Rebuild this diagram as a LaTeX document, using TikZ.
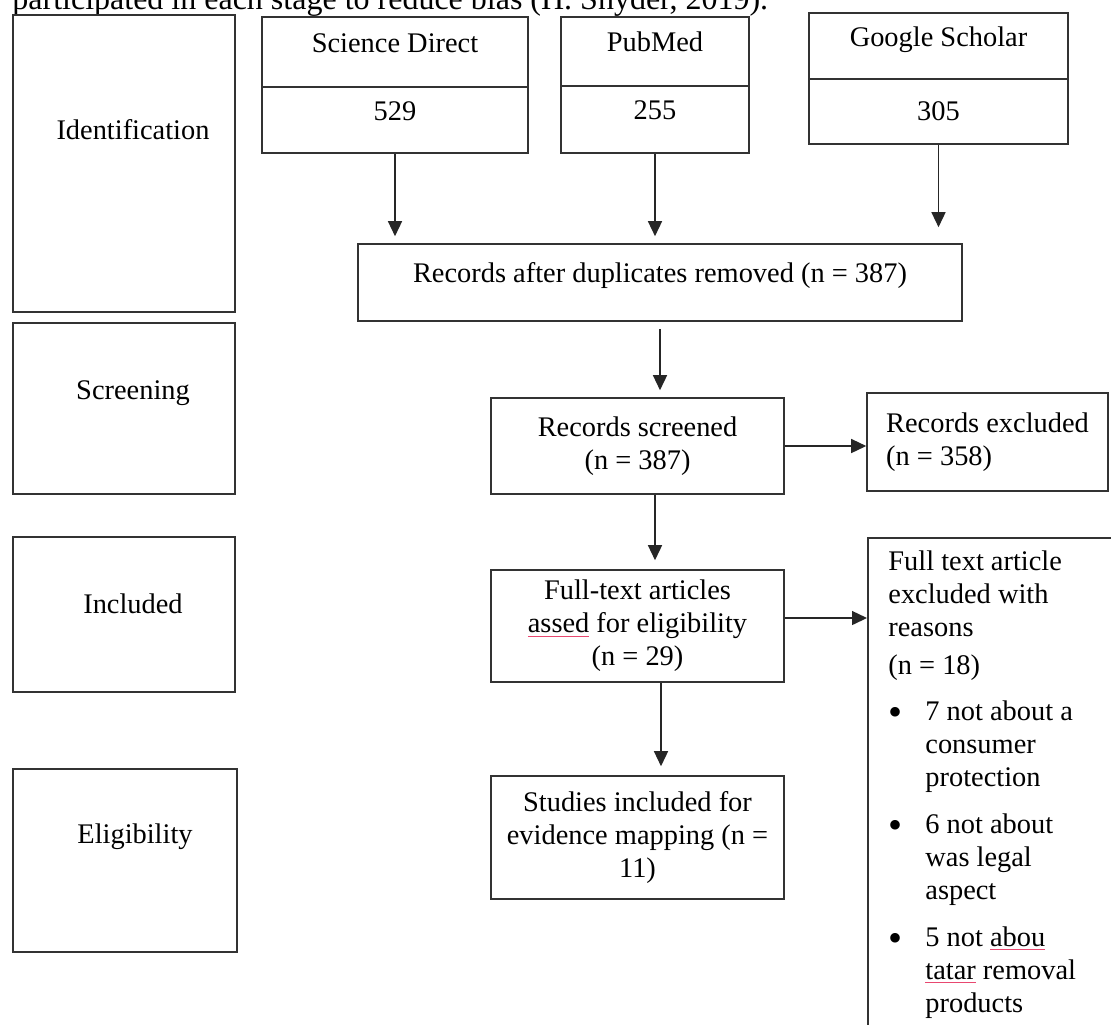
\documentclass[tikz,border=0pt]{standalone}
\usepackage{fontspec}
\setmainfont{Liberation Serif}
\usetikzlibrary{arrows.meta}
\definecolor{squig}{RGB}{232,72,112}
\newcommand{\squig}[1]{\textcolor{squig}{\underline{\textcolor{black}{#1}}}}
\newcommand{\bul}{\makebox[18.5pt][l]{\raisebox{-2.5pt}{\fontsize{20}{16}\selectfont\textbullet}}}
\newcommand{\ind}{\hspace*{18.5pt}}
\tikzset{
  box/.style={draw=black!80, line width=0.8pt, inner sep=0pt, align=center, font=\fontsize{14.2}{16.5}\selectfont},
  stage/.style={box, minimum width=111pt},
  lift/.style={text height=10pt, text depth=10pt},
  txt/.style={inner sep=0pt, font=\fontsize{14.2}{16.5}\selectfont},
  arr/.style={draw=black!85, line width=0.7pt, -{Triangle[width=7pt,length=7.5pt]}}
}
\begin{document}
\begin{tikzpicture}[x=0.5pt, y=-0.5pt]
  \useasboundingbox (0,0) rectangle (1111,1024);
  \clip (0,0) rectangle (1111,1024);

  % line of the page above, cut off
  \node[anchor=base west, inner sep=0pt, font=\fontsize{16}{19}\selectfont] (cap) at (12,9.5) {participated in each stage to reduce bias (H. Snyder, 2019).};

  % stages
  \node[stage, minimum height=148.5pt] (ident) at (124,163.5) {};
  \node[stage, minimum height=85.5pt] (screen) at (124,408.5) {};
  \node[stage, minimum height=77.5pt] (incl) at (124,614.5) {};
  \node[stage, minimum width=112pt, minimum height=91.5pt] (elig) at (125,860.5) {};
  \node[txt] (identTxt) at (133,130) {Identification};
  \node[txt] (screenTxt) at (133,393) {Screening};
  \node[txt] (inclTxt) at (133,604) {Included};
  \node[txt] (eligTxt) at (135,837) {Eligibility};

  % sources
  \node[box, lift, minimum width=133pt, minimum height=35pt] (sdName) at (395,52) {Science Direct};
  \node[box, lift, minimum width=133pt, minimum height=33pt] (sdCount) at (395,120) {529};
  \node[box, lift, minimum width=94pt, minimum height=34.5pt] (pmName) at (655,51.5) {PubMed};
  \node[box, lift, minimum width=94pt, minimum height=33.5pt] (pmCount) at (655,119.5) {255};
  \node[box, lift, minimum width=129.5pt, minimum height=33pt] (gsName) at (938.5,46) {Google Scholar};
  \node[box, minimum width=129.5pt, minimum height=32.5pt] (gsCount) at (938.5,111.5) {305};

  % flow
  \node[box, lift, minimum width=302pt, minimum height=38.5pt] (dup) at (660,282.5) {Records after duplicates removed (n = 387)};
  \node[box, minimum width=146.5pt, minimum height=48pt] (screened) at (637.5,446) {Records screened\\(n = 387)};
  \node[box, minimum width=120.5pt, minimum height=49pt, align=left] (excl) at (987.5,442) {Records excluded\\(n = 358)};
  \node[box, minimum width=146.5pt, minimum height=56pt] (full) at (637.5,626) {Full-text articles\\\squig{assed} for eligibility\\(n = 29)};
  \node[box, minimum width=146.5pt, minimum height=61.5pt] (studies) at (637.5,837.5) {Studies included for\\evidence mapping (n =\\11)};
  \node[box, anchor=north west, minimum width=135pt, minimum height=260pt] (reasons) at (867,537) {};
  \node[txt, anchor=north west, align=left] (reasonsTxt) at (888,550) {Full text article\\excluded with\\reasons\\[2.5pt]
    (n = 18)\\[6.5pt]
    \bul 7 not about a\\\ind consumer\\\ind protection\\[7pt]
    \bul 6 not about\\\ind was legal\\\ind aspect\\[7pt]
    \bul 5 not \squig{abou}\\\ind \squig{tatar} removal\\\ind products};

  \draw[arr, shorten >=3.5pt] (sdCount.south) -- (sdCount.south |- dup.north);
  \draw[arr, shorten >=3.5pt] (pmCount.south) -- (pmCount.south |- dup.north);
  \draw[arr, shorten >=8pt] (gsCount.south) -- (gsCount.south |- dup.north);
  \draw[arr, shorten <=3.5pt, shorten >=3.5pt] (dup.south) -- (dup.south |- screened.north);
  \draw[arr] (screened.east) -- (screened.east -| excl.west);
  \draw[arr, shorten >=4.5pt] ([xshift=8.75pt]screened.south) -- ([xshift=8.75pt]screened.south |- full.north);
  \draw[arr] ([yshift=4pt]full.east) -- ([yshift=4pt]full.east -| reasons.west);
  \draw[arr, shorten >=4.5pt] ([xshift=11.75pt]full.south) -- ([xshift=11.75pt]full.south |- studies.north);
\end{tikzpicture}
\end{document}
